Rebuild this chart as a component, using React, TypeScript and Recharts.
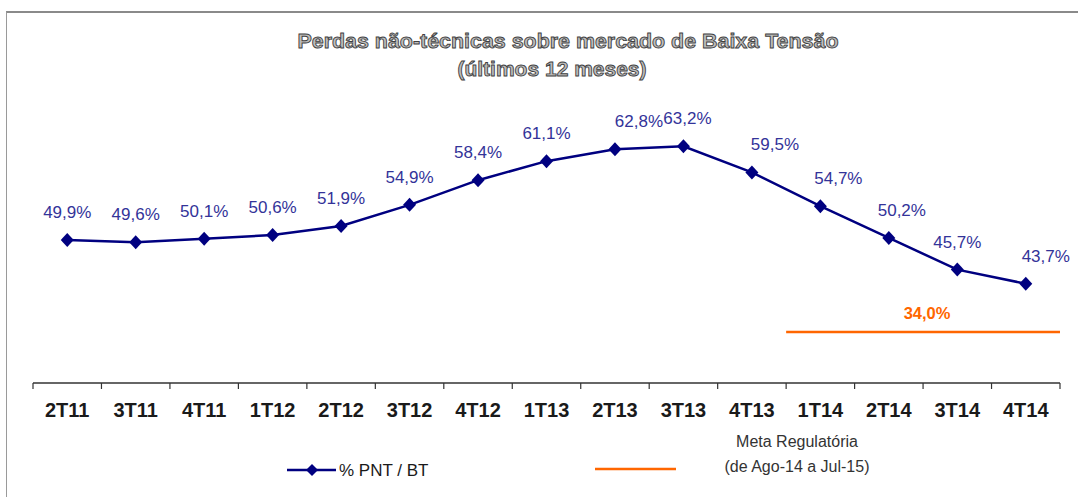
import {
  LineChart,
  Line,
  XAxis,
  YAxis,
  ReferenceLine,
  LabelList,
  Customized,
} from 'recharts';

// quarters shown on the x axis
const categories = ['2T11', '3T11', '4T11', '1T12', '2T12', '3T12', '4T12', '1T13', '2T13', '3T13', '4T13', '1T14', '2T14', '3T14', '4T14'];
// % PNT / BT (últimos 12 meses)
const pntBt = [49.9, 49.6, 50.1, 50.6, 51.9, 54.9, 58.4, 61.1, 62.8, 63.2, 59.5, 54.7, 50.2, 45.7, 43.7];
// meta regulatória, drawn on its own scale from the end of 4T13 to the end of 4T14
const metaValue = 34.0;
const metaSpan = ['4T13', '4T14'];

const W = 1078;
const H = 497;
const PLOT_LEFT = 33;
const PLOT_RIGHT = 1060;
const PLOT_TOP = 102;
const PLOT_BOTTOM = 383;
const X_AXIS_H = 40;
const BAND = (PLOT_RIGHT - PLOT_LEFT) / categories.length;
const NAVY = '#000080';
const LABEL_BLUE = '#333399';
const ORANGE = '#FF6600';
const SANS = "'Liberation Sans', Arial, sans-serif";
const NARROW = "'Liberation Sans Narrow', 'Arial Narrow', 'Liberation Sans', sans-serif";

// small horizontal nudges for the value labels (as in the original slide)
const LABEL_DX = [0, 0, 0, 0, 0, 0, 0, 0, 24, 4, 23, 18, 13, 0, 20];

const data = categories.map((cat, i) => ({ cat, pnt: pntBt[i] }));

const fmt = (v: number) => `${v.toFixed(1).replace('.', ',')}%`;

function Diamond({ cx, cy }: any) {
  if (cx == null || cy == null) return null;
  return (
    <polygon
      points={`${cx},${cy - 7} ${cx + 6.5},${cy} ${cx},${cy + 7} ${cx - 6.5},${cy}`}
      fill={NAVY}
    />
  );
}

function PointLabel({ x, y, value, index }: any) {
  return (
    <text
      x={x + (LABEL_DX[index] ?? 0)}
      y={y - 22}
      textAnchor="middle"
      fill={LABEL_BLUE}
      fontSize={17}
      fontFamily={SANS}
    >
      {fmt(Number(value))}
    </text>
  );
}

function CatTick({ x, y, payload, index }: any) {
  const last = index === categories.length - 1;
  return (
    <g>
      <line x1={x - BAND / 2} x2={x - BAND / 2} y1={y} y2={y + 6} stroke="#333" strokeWidth={1.2} />
      {last && <line x1={x + BAND / 2} x2={x + BAND / 2} y1={y} y2={y + 6} stroke="#333" strokeWidth={1.2} />}
      <text
        x={x}
        y={y + 34}
        textAnchor="middle"
        fill="#1a1a1a"
        fontSize={20}
        fontWeight="bold"
        fontFamily={NARROW}
      >
        {payload.value}
      </text>
    </g>
  );
}

function MetaLabel({ viewBox }: any) {
  if (!viewBox) return null;
  return (
    <text
      x={viewBox.x + viewBox.width / 2 + 4}
      y={viewBox.y - 13}
      textAnchor="middle"
      fill={ORANGE}
      fontSize={16.5}
      fontWeight="bold"
      fontFamily={SANS}
    >
      {fmt(metaValue)}
    </text>
  );
}

function Title() {
  const style = {
    fontFamily: SANS,
    fontWeight: 'bold' as const,
    fontSize: 21,
    fill: '#bdbdbd',
    stroke: '#3f3f3f',
    strokeWidth: 0.9,
  };
  return (
    <g>
      <text x={568} y={48} textAnchor="middle" textLength={541} lengthAdjust="spacingAndGlyphs" style={style}>
        Perdas não-técnicas sobre mercado de Baixa Tensão
      </text>
      <text x={552} y={76} textAnchor="middle" style={style}>
        (últimos 12 meses)
      </text>
    </g>
  );
}

// legend drawn below the axis labels, like the slide
function LegendBox() {
  return (
    <g transform="translate(0, 423)">
      <line x1={287} x2={336} y1={47} y2={47} stroke={NAVY} strokeWidth={2.5} />
      <polygon points="312,41 318,47 312,53 306,47" fill={NAVY} />
      <text x={339} y={53} fontSize={17} fill="#1a1a1a" fontFamily={SANS}>
        % PNT / BT
      </text>
      <line x1={595} x2={676} y1={46} y2={46} stroke={ORANGE} strokeWidth={2.5} />
      <text x={797} y={24} textAnchor="middle" fontSize={16} fill="#333" fontFamily={SANS}>
        Meta Regulatória
      </text>
      <text x={797} y={49} textAnchor="middle" fontSize={16} fill="#333" fontFamily={SANS}>
        (de Ago-14 a Jul-15)
      </text>
    </g>
  );
}

export default function App() {
  return (
    <div style={{ position: 'absolute', left: 0, top: 0, width: W, height: H, background: '#fff' }}>
      <div
        style={{
          position: 'absolute',
          left: 6,
          top: 11,
          width: W - 6,
          height: H - 11,
          borderTop: '2px solid #8a8a8a',
          borderLeft: '1.5px solid #9a9a9a',
          boxSizing: 'border-box',
          pointerEvents: 'none',
        }}
      />
      <LineChart
        width={W}
        height={H}
        data={data}
        margin={{
          top: PLOT_TOP,
          right: W - PLOT_RIGHT,
          left: PLOT_LEFT,
          bottom: H - PLOT_BOTTOM - X_AXIS_H,
        }}
      >
        <XAxis
          xAxisId="cat"
          dataKey="cat"
          scale="band"
          height={X_AXIS_H}
          interval={0}
          tickSize={0}
          tickMargin={0}
          tickLine={false}
          axisLine={{ stroke: '#333', strokeWidth: 1.5 }}
          tick={<CatTick />}
        />
        <YAxis yAxisId="main" hide domain={[29.6, 69.5]} allowDataOverflow />
        <YAxis yAxisId="meta" hide domain={[20, 97]} allowDataOverflow />
        <Line
          xAxisId="cat"
          yAxisId="main"
          type="linear"
          dataKey="pnt"
          name="% PNT / BT"
          stroke={NAVY}
          strokeWidth={2.5}
          dot={<Diamond />}
          activeDot={false}
          isAnimationActive={false}
        >
          <LabelList dataKey="pnt" content={<PointLabel />} />
        </Line>
        <ReferenceLine
          xAxisId="cat"
          yAxisId="meta"
          position="end"
          segment={[
            { x: metaSpan[0], y: metaValue },
            { x: metaSpan[1], y: metaValue },
          ]}
          stroke={ORANGE}
          strokeWidth={2.5}
          ifOverflow="visible"
          label={<MetaLabel />}
        />
        <Customized component={<Title />} />
        <Customized component={<LegendBox />} />
      </LineChart>
    </div>
  );
}
